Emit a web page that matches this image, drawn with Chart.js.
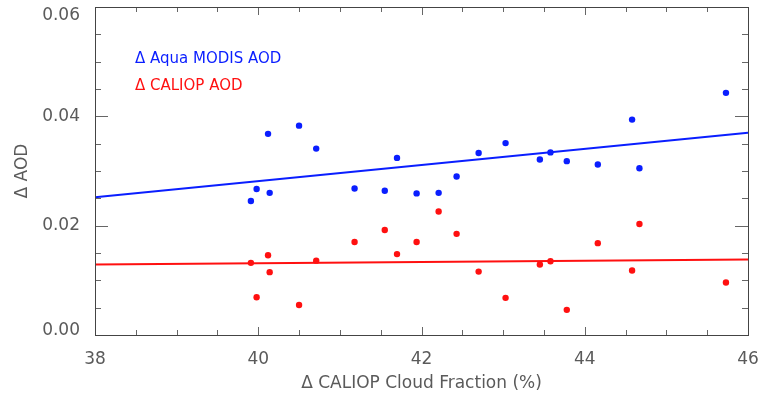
<!DOCTYPE html>
<html>
<head>
<meta charset="utf-8">
<script src="https://cdn.jsdelivr.net/npm/chart.js@4.4.0/dist/chart.umd.min.js"></script>
<style>
  html, body { margin: 0; padding: 0; background: #fff; }
</style>
</head>
<body>
<canvas id="scatterChart" width="762" height="398"></canvas>
<script>
// Delta CALIOP cloud fraction (%) for each point
const cloudFraction = [39.91, 39.98, 40.12, 40.14, 40.50, 40.71, 41.18, 41.55, 41.70, 41.94, 42.21,
                       42.43, 42.70, 43.03, 43.45, 43.58, 43.78, 44.16, 44.58, 44.67, 45.73];
const modisAod  = [0.0245, 0.0267, 0.0368, 0.0260, 0.0383, 0.0341, 0.0268, 0.0264, 0.0324, 0.0259, 0.0260,
                   0.0290, 0.0333, 0.0351, 0.0321, 0.0334, 0.0318, 0.0312, 0.0394, 0.0305, 0.0443];
const caliopAod = [0.0132, 0.0069, 0.0146, 0.0115, 0.0055, 0.0136, 0.0170, 0.0192, 0.0148, 0.0170, 0.0226,
                   0.0185, 0.0116, 0.0068, 0.0129, 0.0135, 0.0046, 0.0168, 0.0118, 0.0203, 0.0096];

// linear fit ends, at x = 38 and x = 46
const fitX = [38, 46];
const modisFit = [0.0252, 0.0370];
const caliopFit = [0.0129, 0.0138];

const xTickLabels = [38, 40, 42, 44, 46];
const yTickLabels = [0.00, 0.02, 0.04, 0.06];

const BLUE = "#0a1eff";
const RED = "#ff1010";
const TEXT = "#5a5a5a";
const FONT = "'DejaVu Sans', sans-serif";

function toPoints(xs, ys) {
  return xs.map((x, i) => ({ x: x, y: ys[i] }));
}

// box around the plot with inward major/minor ticks (IDL style)
const frameTicks = {
  id: "frameTicks",
  afterDraw(chart) {
    const { ctx, chartArea: a, scales: { x, y } } = chart;
    ctx.save();
    ctx.lineWidth = 1;
    ctx.strokeStyle = "#666";
    ctx.beginPath();
    for (let v = 38; v <= 46.001; v += 0.5) {
      const px = Math.round(x.getPixelForValue(v)) + 0.5;
      const len = Math.abs(v - Math.round(v / 2) * 2) < 0.01 ? 8 : 5;
      ctx.moveTo(px, a.bottom); ctx.lineTo(px, a.bottom - len);
      ctx.moveTo(px, a.top); ctx.lineTo(px, a.top + len);
    }
    for (let k = 0; k <= 12; k++) {
      const v = k * 0.005;
      const py = Math.round(y.getPixelForValue(v)) + 0.5;
      const len = k % 4 === 0 ? 13 : 6;
      ctx.moveTo(a.left, py); ctx.lineTo(a.left + len, py);
      ctx.moveTo(a.right, py); ctx.lineTo(a.right - len, py);
    }
    ctx.stroke();
    ctx.strokeStyle = "#444";
    ctx.strokeRect(Math.round(a.left) + 0.5, Math.round(a.top) + 0.5,
                   Math.round(a.right - a.left), Math.round(a.bottom - a.top));
    ctx.restore();
  }
};

// text-only legend inside the plot
const innerLegend = {
  id: "innerLegend",
  afterDraw(chart) {
    const ctx = chart.ctx;
    const a = chart.chartArea;
    ctx.save();
    ctx.font = "15px " + FONT;
    ctx.textBaseline = "alphabetic";
    chart.data.datasets.filter(d => d.type === "scatter").forEach((d, i) => {
      ctx.fillStyle = d.backgroundColor;
      ctx.fillText(d.label, a.left + 40, a.top + 56 + i * 27);
    });
    ctx.restore();
  }
};

new Chart(document.getElementById("scatterChart"), {
  data: {
    datasets: [
      {
        type: "scatter",
        label: "\u0394 Aqua MODIS AOD",
        data: toPoints(cloudFraction, modisAod),
        backgroundColor: BLUE,
        borderWidth: 0,
        pointRadius: 3.2
      },
      {
        type: "scatter",
        label: "\u0394 CALIOP AOD",
        data: toPoints(cloudFraction, caliopAod),
        backgroundColor: RED,
        borderWidth: 0,
        pointRadius: 3.2
      },
      {
        type: "line",
        label: "MODIS fit",
        data: toPoints(fitX, modisFit),
        borderColor: BLUE,
        borderWidth: 2,
        pointRadius: 0
      },
      {
        type: "line",
        label: "CALIOP fit",
        data: toPoints(fitX, caliopFit),
        borderColor: RED,
        borderWidth: 2,
        pointRadius: 0
      }
    ]
  },
  options: {
    responsive: false,
    animation: false,
    layout: { padding: { top: 7, right: 14, left: 0, bottom: 0 } },
    plugins: {
      legend: { display: false },
      tooltip: { enabled: false }
    },
    scales: {
      x: {
        type: "linear",
        position: "bottom",
        min: 38,
        max: 46,
        afterBuildTicks: s => { s.ticks = xTickLabels.map(v => ({ value: v })); },
        afterFit: s => { s.height = 63; s.paddingLeft = 0; s.paddingRight = 0; },
        grid: { display: false },
        border: { display: false },
        ticks: {
          color: TEXT,
          font: { family: FONT, size: 17 },
          padding: 6,
          maxRotation: 0,
          callback: v => String(v)
        },
        title: {
          display: true,
          text: "\u0394 CALIOP Cloud Fraction (%)",
          color: TEXT,
          font: { family: FONT, size: 17 },
          padding: { top: 0, bottom: 4 }
        }
      },
      y: {
        type: "linear",
        min: 0,
        max: 0.06,
        afterBuildTicks: s => { s.ticks = yTickLabels.map(v => ({ value: v })); },
        afterFit: s => { s.width = 95; s.paddingTop = 0; s.paddingBottom = 0; },
        grid: { display: false },
        border: { display: false },
        ticks: {
          color: TEXT,
          font: { family: FONT, size: 17, lineHeight: 0.53 },
          padding: 7,
          callback: v => {
            // keep the end labels inside the frame, as in the original plot
            const s = v.toFixed(2);
            if (Math.abs(v - 0.06) < 1e-9) return ["", "", s];
            if (Math.abs(v) < 1e-9) return [s, ""];
            return s;
          }
        },
        title: {
          display: true,
          text: "\u0394 AOD",
          color: TEXT,
          font: { family: FONT, size: 17 },
          padding: { top: 12, bottom: 0 }
        }
      }
    }
  },
  plugins: [frameTicks, innerLegend]
});
</script>
</body>
</html>
